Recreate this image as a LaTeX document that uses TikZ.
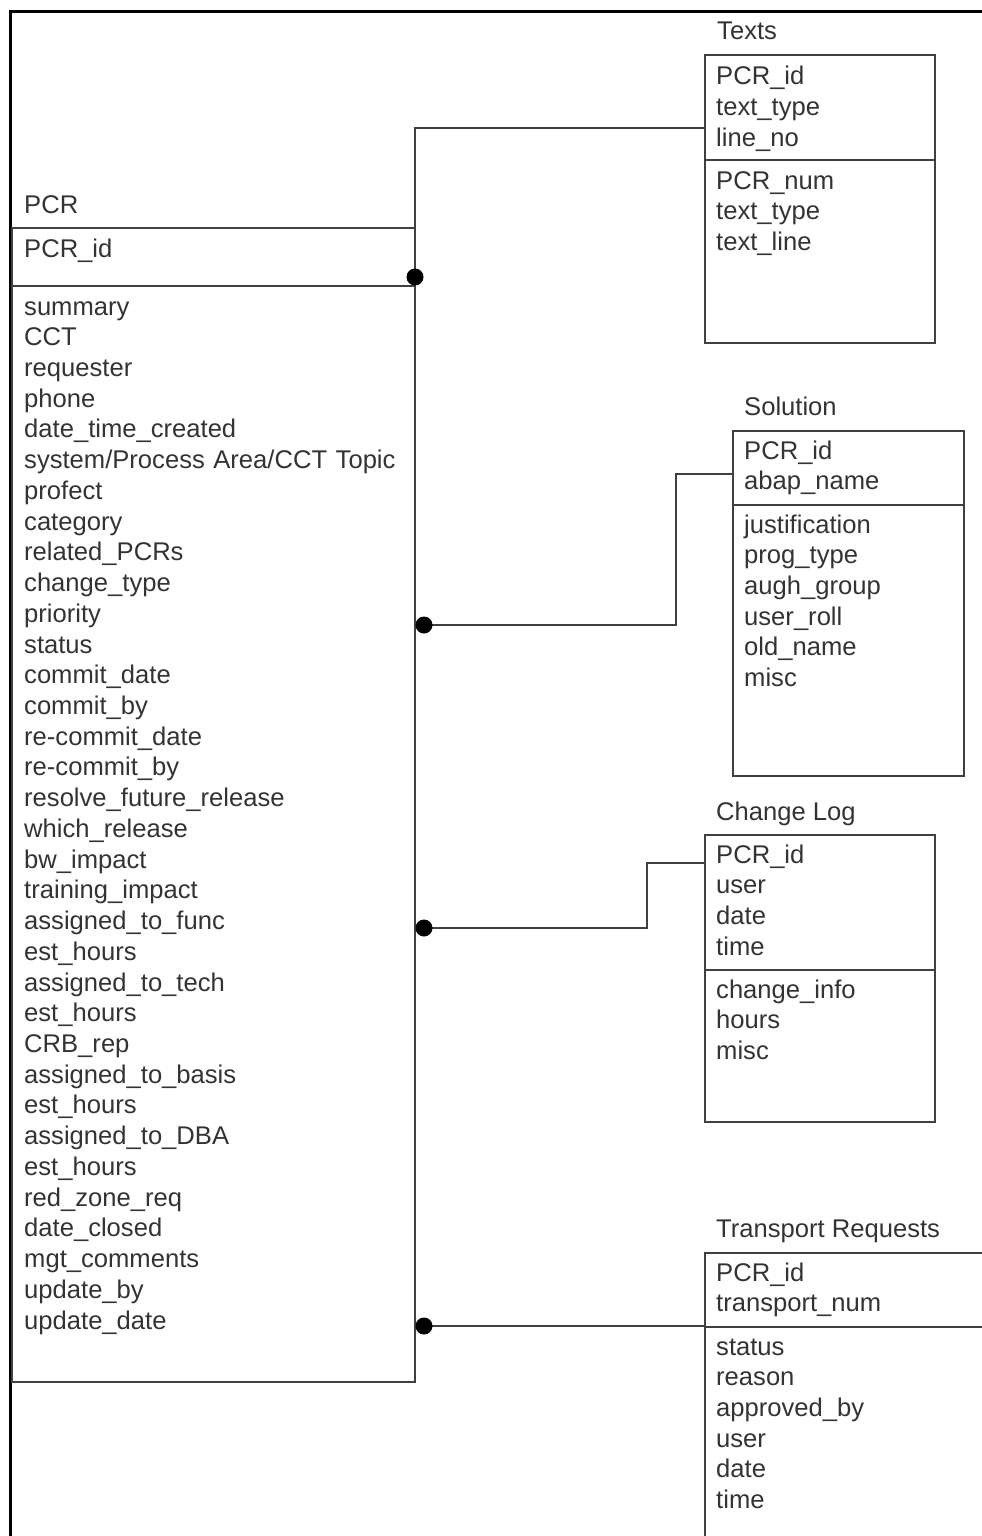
\documentclass[tikz,border=0pt]{standalone}
\usepackage{fontspec}
\setmainfont{Liberation Sans}

\newcommand{\erdfont}{\fontsize{25.6}{30.73}\selectfont}

\begin{document}
\begin{tikzpicture}[
    x=1pt, y=-1pt,
    tablebox/.style={
        draw=black!75,
        line width=2pt,
        anchor=north west,
        inner sep=0pt,
        outer sep=0pt
    },
    tabletitle/.style={
        anchor=base west,
        inner sep=0pt,
        text=black!80,
        font=\erdfont
    },
    fieldlist/.style={
        anchor=base west,
        inner sep=0pt,
        text width=390pt,
        align=left,
        text=black!80,
        font=\erdfont
    },
    link/.style={
        draw=black!75,
        line width=2pt
    },
    joint/.style={
        circle,
        fill=black,
        inner sep=0pt,
        minimum size=17pt
    }
]
    \useasboundingbox (0,0) rectangle (982,1536);
    \clip (0,0) rectangle (982,1536);

    % frame
    \draw[line width=3pt] (982,12) -- (10,12) -- (10,1540);

    % PCR
    \node[tablebox, minimum width=403pt, minimum height=58pt] (pcrkey) at (12,228) {};
    \node[tablebox, minimum width=403pt, minimum height=1096pt] (pcrattr) at (pcrkey.south west) {};
    \node[tabletitle] (pcrtitle) at (24,213) {PCR};
    \node[fieldlist] (pcrkeys) at (24,257) {PCR\_id};
    \node[fieldlist] (pcrfields) at (24,315) {
        summary\\ CCT\\ requester\\ phone\\ date\_time\_created\\
        system/Process Area/CCT Topic\\ profect\\ category\\ related\_PCRs\\
        change\_type\\ priority\\ status\\ commit\_date\\ commit\_by\\
        re-commit\_date\\ re-commit\_by\\ resolve\_future\_release\\
        which\_release\\ bw\_impact\\ training\_impact\\ assigned\_to\_func\\
        est\_hours\\ assigned\_to\_tech\\ est\_hours\\ CRB\_rep\\
        assigned\_to\_basis\\ est\_hours\\ assigned\_to\_DBA\\ est\_hours\\
        red\_zone\_req\\ date\_closed\\ mgt\_comments\\ update\_by\\ update\_date
    };

    % Texts
    \node[tablebox, minimum width=230pt, minimum height=105pt] (textskey) at (705,55) {};
    \node[tablebox, minimum width=230pt, minimum height=183pt] (textsattr) at (textskey.south west) {};
    \node[tabletitle] (textstitle) at (717,40) {Texts};
    \node[fieldlist] (textskeys) at (716,85) {PCR\_id\\ text\_type\\ line\_no};
    \node[fieldlist] (textsfields) at (716,189) {PCR\_num\\ text\_type\\ text\_line};

    % Solution
    \node[tablebox, minimum width=231pt, minimum height=74pt] (solkey) at (733,431) {};
    \node[tablebox, minimum width=231pt, minimum height=271pt] (solattr) at (solkey.south west) {};
    \node[tabletitle] (soltitle) at (744,415) {Solution};
    \node[fieldlist] (solkeys) at (744,459) {PCR\_id\\ abap\_name};
    \node[fieldlist] (solfields) at (744,533) {
        justification\\ prog\_type\\ augh\_group\\ user\_roll\\ old\_name\\ misc
    };

    % Change Log
    \node[tablebox, minimum width=230pt, minimum height=135pt] (logkey) at (705,835) {};
    \node[tablebox, minimum width=230pt, minimum height=152pt] (logattr) at (logkey.south west) {};
    \node[tabletitle] (logtitle) at (716,820) {Change Log};
    \node[fieldlist] (logkeys) at (716,863) {PCR\_id\\ user\\ date\\ time};
    \node[fieldlist] (logfields) at (716,998) {change\_info\\ hours\\ misc};

    % Transport Requests
    \node[tablebox, minimum width=320pt, minimum height=74pt] (trkey) at (705,1253) {};
    \node[tablebox, minimum width=320pt, minimum height=280pt] (trattr) at (trkey.south west) {};
    \node[tabletitle] (trtitle) at (716,1237) {Transport Requests};
    \node[fieldlist] (trkeys) at (716,1281) {PCR\_id\\ transport\_num};
    \node[fieldlist] (trfields) at (716,1355) {
        status\\ reason\\ approved\_by\\ user\\ date\\ time
    };

    % relations
    \coordinate (texts-end) at (415,277);
    \coordinate (sol-end) at (424,625);
    \coordinate (log-end) at (424,928);
    \coordinate (tr-end) at (424,1326);
    \coordinate (sol-bend) at (676,474);
    \coordinate (log-bend) at (647,863);

    \draw[link] (texts-end) |- (textskey.west |- 0,128);
    \draw[link] (sol-end) -| (sol-bend) -- (solkey.west |- sol-bend);
    \draw[link] (log-end) -| (log-bend) -- (logkey.west |- log-bend);
    \draw[link] (tr-end) -- (trkey.west |- tr-end);

    \node[joint] (texts-dot) at (texts-end) {};
    \node[joint] (sol-dot) at (sol-end) {};
    \node[joint] (log-dot) at (log-end) {};
    \node[joint] (tr-dot) at (tr-end) {};
\end{tikzpicture}
\end{document}
